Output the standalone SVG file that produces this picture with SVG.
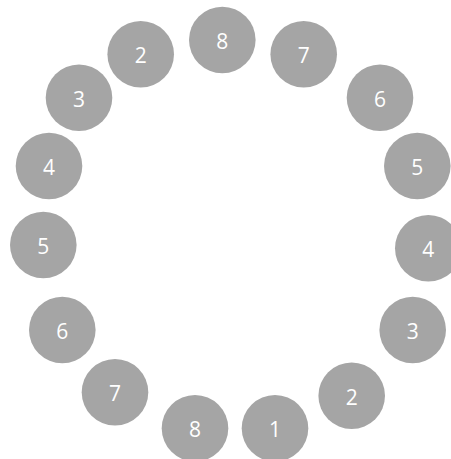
<svg xmlns="http://www.w3.org/2000/svg" width="451" height="459" viewBox="0 0 451 459">
<style>
.n circle{fill:#a5a5a5}
.n text{fill:#fff;font-family:"Open Sans","Liberation Sans",sans-serif;font-size:21px;text-anchor:middle;dominant-baseline:central}
</style>
<rect width="451" height="459" fill="#fff"/>
<g id="connectors"/>
<g id="n-top8" class="n"><circle cx="222.3" cy="40" r="33.3"/><text x="222.3" y="41">8</text></g>
<g id="n-top7" class="n"><circle cx="303.7" cy="54.3" r="33.3"/><text x="303.7" y="55.3">7</text></g>
<g id="n-top6" class="n"><circle cx="380" cy="97.7" r="33.3"/><text x="380" y="98.7">6</text></g>
<g id="n-r5" class="n"><circle cx="417.3" cy="166" r="33.3"/><text x="417.3" y="167">5</text></g>
<g id="n-r4" class="n"><circle cx="428.3" cy="248.3" r="33.3"/><text x="428.3" y="249.3">4</text></g>
<g id="n-r3" class="n"><circle cx="412.7" cy="330" r="33.3"/><text x="412.7" y="331">3</text></g>
<g id="n-b2" class="n"><circle cx="351.7" cy="395.7" r="33.3"/><text x="351.7" y="396.7">2</text></g>
<g id="n-b1" class="n"><circle cx="275" cy="428.3" r="33.3"/><text x="275" y="429.3">1</text></g>
<g id="n-b8" class="n"><circle cx="195" cy="428.3" r="33.3"/><text x="195" y="429.3">8</text></g>
<g id="n-b7" class="n"><circle cx="115" cy="392.3" r="33.3"/><text x="115" y="393.3">7</text></g>
<g id="n-l6" class="n"><circle cx="62.3" cy="330" r="33.3"/><text x="62.3" y="331">6</text></g>
<g id="n-l5" class="n"><circle cx="43.3" cy="245" r="33.3"/><text x="43.3" y="246">5</text></g>
<g id="n-l4" class="n"><circle cx="49" cy="166" r="33.3"/><text x="49" y="167">4</text></g>
<g id="n-l3" class="n"><circle cx="79" cy="97.7" r="33.3"/><text x="79" y="98.7">3</text></g>
<g id="n-l2" class="n"><circle cx="140.7" cy="54.3" r="33.3"/><text x="140.7" y="55.3">2</text></g>
</svg>
